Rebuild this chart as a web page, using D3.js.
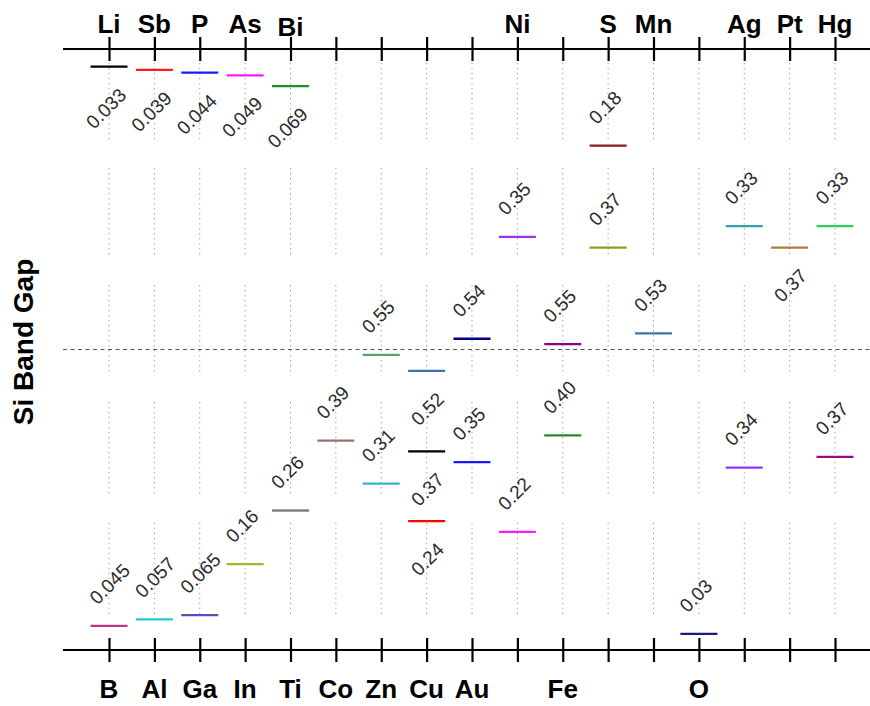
<!DOCTYPE html>
<html>
<head>
<meta charset="utf-8">
<script src="https://cdn.jsdelivr.net/npm/d3@7"></script>
<style>
  body { margin: 0; background: #fff; }
  svg { display: block; font-family: "Liberation Sans", Arial, sans-serif; }
</style>
</head>
<body>
<svg id="chart" width="870" height="706"></svg>
<script>
// Column labels along the conduction band (top) and valence band (bottom)
const topLabels = ["Li", "Sb", "P", "As", "Bi", "", "", "", "", "Ni", "", "S", "Mn", "", "Ag", "Pt", "Hg"];
const bottomLabels = ["B", "Al", "Ga", "In", "Ti", "Co", "Zn", "Cu", "Au", "", "Fe", "", "", "O", "", "", ""];

// Impurity levels: element, energy from the band edge (eV), which edge, printed value
const levelElement = ["Li", "Sb", "P", "As", "Bi", "S", "Ni", "S", "Ag", "Pt", "Hg",
  "Au", "Fe", "Mn", "Zn", "Cu",
  "B", "Al", "Ga", "In", "Ti", "Co", "Zn", "Cu", "Cu", "Au", "Ni", "Fe", "O", "Ag", "Hg"];
const levelEnergy = [0.033, 0.039, 0.044, 0.049, 0.069, 0.18, 0.35, 0.37, 0.33, 0.37, 0.33,
  0.54, 0.55, 0.53, 0.55, 0.52,
  0.045, 0.057, 0.065, 0.16, 0.26, 0.39, 0.31, 0.37, 0.24, 0.35, 0.22, 0.40, 0.03, 0.34, 0.36];
const levelEdge = ["Ec", "Ec", "Ec", "Ec", "Ec", "Ec", "Ec", "Ec", "Ec", "Ec", "Ec",
  "Ec", "Ec", "Ec", "Ev", "Ev",
  "Ev", "Ev", "Ev", "Ev", "Ev", "Ev", "Ev", "Ev", "Ev", "Ev", "Ev", "Ev", "Ev", "Ev", "Ev"];
const levelText = ["0.033", "0.039", "0.044", "0.049", "0.069", "0.18", "0.35", "0.37", "0.33", "0.37", "0.33",
  "0.54", "0.55", "0.53", "0.55", "0.52",
  "0.045", "0.057", "0.065", "0.16", "0.26", "0.39", "0.31", "0.37", "0.24", "0.35", "0.22", "0.40", "0.03", "0.34", "0.37"];
const levelSide = ["below", "below", "below", "below", "below", "above", "above", "above", "above", "below", "above",
  "above", "above", "above", "above", "below",
  "above", "above", "above", "above", "above", "above", "above", "below", "below", "above", "above", "above", "above", "above", "above"];
const levelColor = ["#000000", "#ff1a1a", "#1a1aff", "#ff1aff", "#228b22", "#8b1a1a", "#a030f0", "#969a1c", "#2fa3a6", "#b5793a", "#2fd05a",
  "#000080", "#8b008b", "#4172aa", "#5e9e6a", "#4172aa",
  "#c2338a", "#28c8d0", "#5b4fb5", "#9bbc2e", "#808080", "#a07070", "#3aaed8", "#000000", "#ff0000", "#1a1aff", "#ff1aff", "#228b22", "#1a1a80", "#9a30f0", "#8a108a"];

const bandGap = 1.12;
// stretches of the dotted guides, in eV above the valence band
const guideStretches = [[1.094, 0.947], [0.898, 0.731], [0.680, 0.512], [0.462, 0.285], [0.237, 0.065]];

const svg = d3.select("#chart");
const left = 63, right = 870;

const x = d3.scalePoint()
  .domain(d3.range(topLabels.length))
  .range([109, 835]);

const y = d3.scaleLinear()
  .domain([0, bandGap])
  .range([650, 49]);

const colOf = (el) => {
  let i = topLabels.indexOf(el);
  return i >= 0 ? i : bottomLabels.indexOf(el);
};

// dotted vertical guides
const guides = svg.append("g").attr("class", "guides");
x.domain().forEach((c) => {
  guideStretches.forEach((s) => {
    guides.append("line")
      .attr("x1", x(c)).attr("x2", x(c))
      .attr("y1", y(s[0])).attr("y2", y(s[1]))
      .attr("stroke", "#9a9a9a")
      .attr("stroke-width", 1)
      .attr("stroke-dasharray", "1.3,3.7");
  });
});

// midgap
svg.append("line")
  .attr("x1", left).attr("x2", right)
  .attr("y1", y(bandGap / 2)).attr("y2", y(bandGap / 2))
  .attr("stroke", "#555")
  .attr("stroke-width", 1)
  .attr("stroke-dasharray", "4,3.5");

// band edges as axes
const axisTop = d3.axisTop(x).tickSize(0).tickFormat(() => "");
const axisBottom = d3.axisBottom(x).tickSize(0).tickFormat(() => "");

[[axisTop, y(bandGap), topLabels, 33], [axisBottom, y(0), bottomLabels, 698]].forEach(([ax, yy, labels, base]) => {
  const g = svg.append("g").attr("transform", `translate(0,${yy})`).call(ax);
  g.select(".domain").remove();
  g.append("line")
    .attr("x1", left).attr("x2", right)
    .attr("stroke", "#000").attr("stroke-width", 2.2);
  g.selectAll(".tick").append("line")
    .attr("y1", -12).attr("y2", 12)
    .attr("stroke", "#000").attr("stroke-width", 2.2);
  svg.append("g").selectAll("text")
    .data(labels)
    .join("text")
    .attr("x", (d, i) => x(i))
    .attr("y", (d) => base + (d === "Bi" ? 3 : 0))
    .attr("text-anchor", "middle")
    .attr("font-size", 26)
    .attr("font-weight", "bold")
    .attr("fill", "#000")
    .text((d) => d);
});

// levels
const levels = levelElement.map((el, i) => ({
  col: colOf(el),
  e: levelEdge[i] === "Ec" ? bandGap - levelEnergy[i] : levelEnergy[i],
  text: levelText[i],
  side: levelSide[i],
  color: levelColor[i]
}));

svg.append("g").selectAll("line")
  .data(levels)
  .join("line")
  .attr("x1", (d) => x(d.col) - 18.5)
  .attr("x2", (d) => x(d.col) + 18.5)
  .attr("y1", (d) => y(d.e))
  .attr("y2", (d) => y(d.e))
  .attr("stroke", (d) => d.color)
  .attr("stroke-width", 2.3);

svg.append("g").selectAll("text")
  .data(levels)
  .join("text")
  .attr("transform", (d) => {
    const px = d.side === "above" ? x(d.col) - 15 : x(d.col) + 15;
    const py = d.side === "above" ? y(d.e) - 24 : y(d.e) + 26;
    return `translate(${px},${py}) rotate(-45)`;
  })
  .attr("text-anchor", (d) => d.side === "above" ? "start" : "end")
  .attr("dominant-baseline", "middle")
  .attr("font-size", 19)
  .attr("fill", "#2a2a2a")
  .text((d) => d.text);

// axis title
svg.append("text")
  .attr("transform", "translate(33,342) rotate(-90)")
  .attr("text-anchor", "middle")
  .attr("font-size", 28)
  .attr("font-weight", "bold")
  .text("Si Band Gap");
</script>
</body>
</html>
